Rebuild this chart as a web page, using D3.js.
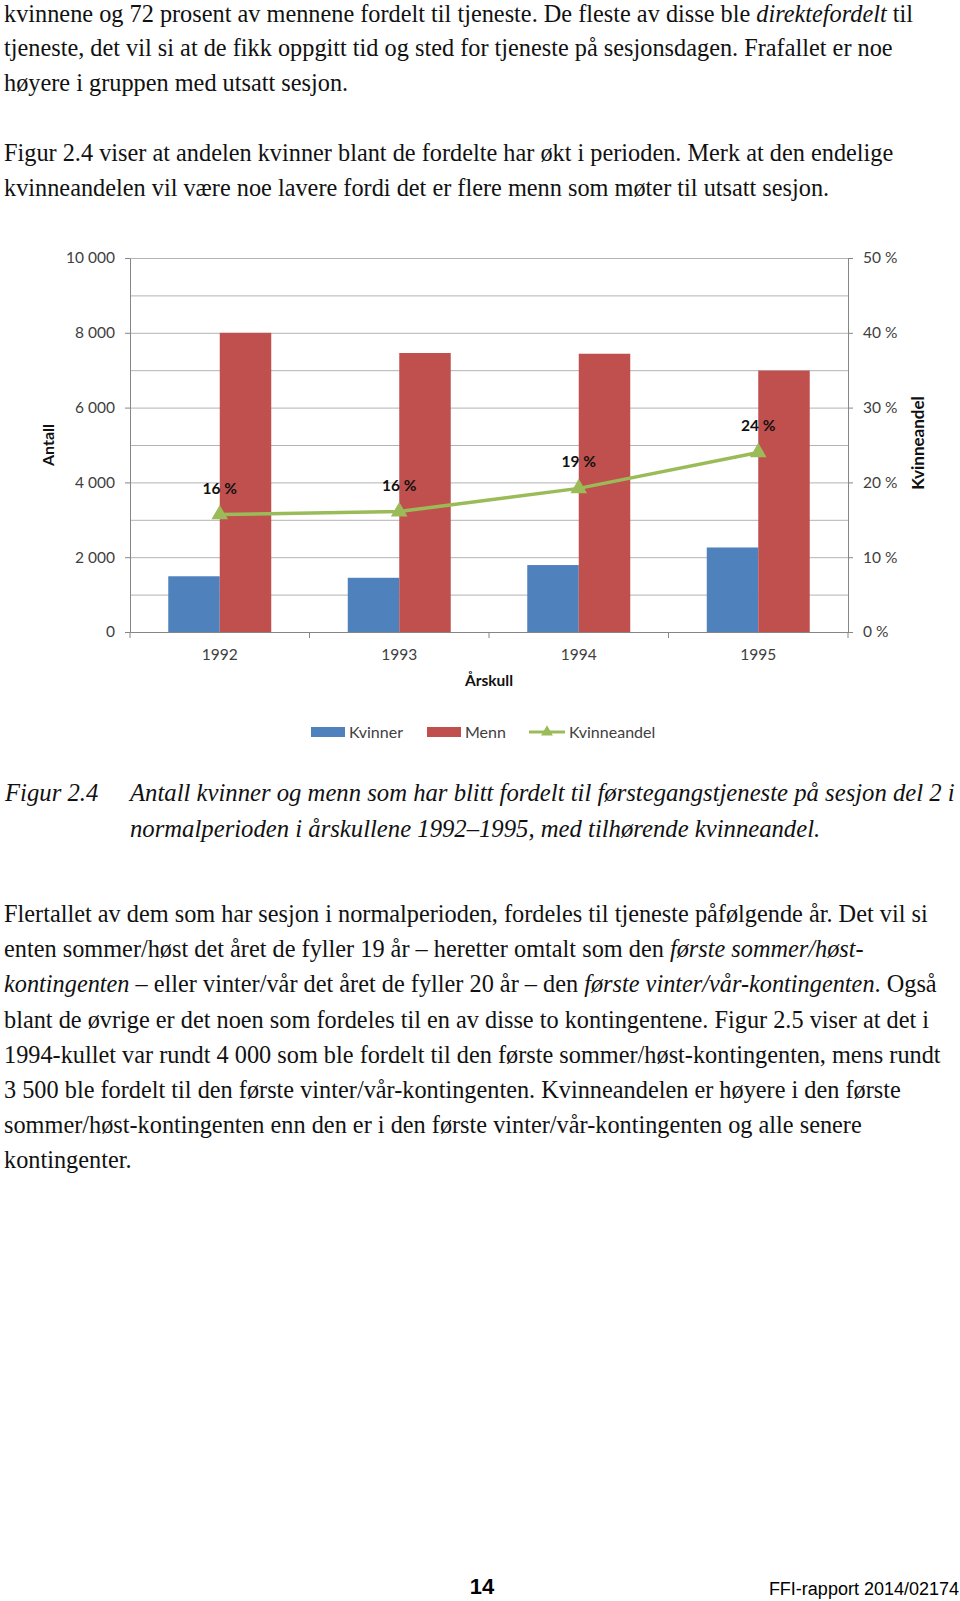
<!DOCTYPE html>
<html>
<head>
<meta charset="utf-8">
<script src="https://cdn.jsdelivr.net/npm/d3@7"></script>
<style>
  body { margin: 0; background: #fff; }
  svg { display: block; }
</style>
</head>
<body>
<div id="page"></div>
<script>
// chart values
const years = ['1992', '1993', '1994', '1995'];
const kvinner = [1490, 1450, 1790, 2260];
const menn = [8000, 7460, 7440, 6990];
const kvinneandel = [0.157, 0.161, 0.192, 0.240];
const leftTicks = [0, 2000, 4000, 6000, 8000, 10000];
const rightTicks = [0, 0.1, 0.2, 0.3, 0.4, 0.5];
const seriesNames = ['Kvinner', 'Menn', 'Kvinneandel'];

// page text, one entry per printed line ([text, italic] pieces)
const para1 = [
  [['kvinnene og 72 prosent av mennene fordelt til tjeneste. De fleste av disse ble ', 0], ['direktefordelt', 1], [' til', 0]],
  [['tjeneste, det vil si at de fikk oppgitt tid og sted for tjeneste på sesjonsdagen. Frafallet er noe', 0]],
  [['høyere i gruppen med utsatt sesjon.', 0]]
];
const para2 = [
  [['Figur 2.4 viser at andelen kvinner blant de fordelte har økt i perioden. Merk at den endelige', 0]],
  [['kvinneandelen vil være noe lavere fordi det er flere menn som møter til utsatt sesjon.', 0]]
];
const captionLabel = 'Figur 2.4';
const captionLines = [
  'Antall kvinner og menn som har blitt fordelt til førstegangstjeneste på sesjon del 2 i',
  'normalperioden i årskullene 1992–1995, med tilhørende kvinneandel.'
];
const para3 = [
  [['Flertallet av dem som har sesjon i normalperioden, fordeles til tjeneste påfølgende år. Det vil si', 0]],
  [['enten sommer/høst det året de fyller 19 år – heretter omtalt som den ', 0], ['første sommer/høst-', 1]],
  [['kontingenten', 1], [' – eller vinter/vår det året de fyller 20 år – den ', 0], ['første vinter/vår-kontingenten', 1], ['. Også', 0]],
  [['blant de øvrige er det noen som fordeles til en av disse to kontingentene. Figur 2.5 viser at det i', 0]],
  [['1994-kullet var rundt 4 000 som ble fordelt til den første sommer/høst-kontingenten, mens rundt', 0]],
  [['3 500 ble fordelt til den første vinter/vår-kontingenten. Kvinneandelen er høyere i den første', 0]],
  [['sommer/høst-kontingenten enn den er i den første vinter/vår-kontingenten og alle senere', 0]],
  [['kontingenter.', 0]]
];
const pageNumber = '14';
const reportId = 'FFI-rapport 2014/02174';

const W = 960, H = 1601;
const serif = '"Liberation Serif", "Times New Roman", serif';
const chartFont = 'Lato, "Open Sans", sans-serif';
const bodySize = '24.3px';

const svg = d3.select('#page').append('svg')
  .attr('width', W)
  .attr('height', H)
  .attr('viewBox', [0, 0, W, H].join(' '));

// --- body text ---
function writeLines(lines, x0, y0, step) {
  lines.forEach((pieces, i) => {
    const t = svg.append('text')
      .attr('x', x0)
      .attr('y', y0 + i * step)
      .style('font-family', serif)
      .style('font-size', bodySize)
      .attr('fill', '#111');
    pieces.forEach(p => {
      t.append('tspan').text(p[0]).style('font-style', p[1] ? 'italic' : 'normal');
    });
  });
}
writeLines(para1, 4, 21.5, 34.8);
writeLines(para2, 4, 161, 34.8);
writeLines(para3, 4, 922, 35.2);

svg.append('text')
  .attr('x', 5).attr('y', 801)
  .style('font-family', serif).style('font-size', '24.7px').style('font-style', 'italic')
  .attr('fill', '#111')
  .text(captionLabel);
captionLines.forEach((s, i) => {
  svg.append('text')
    .attr('x', 130).attr('y', 801 + i * 36)
    .style('font-family', serif).style('font-size', '24.7px').style('font-style', 'italic')
    .attr('fill', '#111')
    .text(s);
});

// footer
svg.append('text')
  .attr('x', 482).attr('y', 1594)
  .attr('text-anchor', 'middle')
  .style('font-family', '"Liberation Sans", Arial, sans-serif')
  .style('font-size', '22px').style('font-weight', 'bold')
  .text(pageNumber);
svg.append('text')
  .attr('x', 959).attr('y', 1595)
  .attr('text-anchor', 'end')
  .style('font-family', '"Liberation Sans", Arial, sans-serif')
  .style('font-size', '18px')
  .text(reportId);

// --- chart ---
const plot = { left: 130, right: 848, top: 258, bottom: 632 };
const colors = { Kvinner: '#4F81BD', Menn: '#C0504D', Kvinneandel: '#9BBB59' };
const gridColor = '#b3b3b3', axisColor = '#868686', labelColor = '#404040';

const x = d3.scaleBand().domain(years).range([plot.left, plot.right]).padding(0);
const xSub = d3.scaleBand().domain(['Kvinner', 'Menn']).range([0, x.bandwidth()])
  .paddingInner(0).paddingOuter(0.743);
const y = d3.scaleLinear().domain([0, 10000]).range([plot.bottom, plot.top]);
const yR = d3.scaleLinear().domain([0, 0.5]).range([plot.bottom, plot.top]);

const g = svg.append('g').style('font-family', chartFont);

// gridlines every 1000
g.append('g')
  .attr('transform', `translate(${plot.left},0)`)
  .call(d3.axisLeft(y).ticks(10).tickSize(-(plot.right - plot.left)).tickFormat(''))
  .call(a => a.select('.domain').remove())
  .call(a => a.selectAll('line').attr('stroke', gridColor).attr('stroke-width', 1));

const nf = d3.formatLocale({ decimal: ',', thousands: '\u00a0', grouping: [3], currency: ['', ''] }).format(',');

const leftAxis = g.append('g')
  .attr('transform', `translate(${plot.left},0)`)
  .call(d3.axisLeft(y).tickValues(leftTicks).tickSize(5).tickSizeOuter(0).tickPadding(10)
    .tickFormat(d => nf(d)));
const rightAxis = g.append('g')
  .attr('transform', `translate(${plot.right},0)`)
  .call(d3.axisRight(yR).tickValues(rightTicks).tickSize(5).tickSizeOuter(0).tickPadding(10)
    .tickFormat(d => Math.round(d * 100) + '\u00a0%'));
[leftAxis, rightAxis].forEach(a => {
  a.select('.domain').attr('stroke', axisColor);
  a.selectAll('line').attr('stroke', axisColor);
  a.selectAll('text').attr('fill', labelColor).style('font-size', '15.5px').style('font-family', chartFont);
});

// bars
const barData = [];
years.forEach((yr, i) => {
  barData.push({ year: yr, key: 'Kvinner', value: kvinner[i] });
  barData.push({ year: yr, key: 'Menn', value: menn[i] });
});
g.append('g').selectAll('rect')
  .data(barData)
  .join('rect')
  .attr('x', d => x(d.year) + xSub(d.key))
  .attr('width', xSub.bandwidth())
  .attr('y', d => y(d.value))
  .attr('height', d => y(0) - y(d.value))
  .attr('fill', d => colors[d.key]);

// x axis: labels at band centres, ticks at band edges
const bottomAxis = g.append('g')
  .attr('transform', `translate(0,${plot.bottom})`)
  .call(d3.axisBottom(x).tickSize(0).tickPadding(16.5).tickSizeOuter(0));
bottomAxis.select('.domain').attr('stroke', axisColor);
bottomAxis.selectAll('text').attr('fill', labelColor).style('font-size', '15.5px').style('font-family', chartFont);
const edges = years.map(yr => x(yr)).concat([x.range()[1]]);
g.append('g').selectAll('line')
  .data(edges)
  .join('line')
  .attr('x1', d => d).attr('x2', d => d)
  .attr('y1', plot.bottom).attr('y2', plot.bottom + 6)
  .attr('stroke', axisColor);

// share line
const pts = years.map((yr, i) => ({ year: yr, v: kvinneandel[i] }));
const cx = d => x(d.year) + x.bandwidth() / 2;
g.append('path')
  .datum(pts)
  .attr('fill', 'none')
  .attr('stroke', colors.Kvinneandel)
  .attr('stroke-width', 3.5)
  .attr('d', d3.line().x(cx).y(d => yR(d.v)));
g.append('g').selectAll('path')
  .data(pts)
  .join('path')
  .attr('transform', d => `translate(${cx(d)},${yR(d.v)})`)
  .attr('d', d3.symbol(d3.symbolTriangle, 120))
  .attr('fill', colors.Kvinneandel);
g.append('g').selectAll('text')
  .data(pts)
  .join('text')
  .attr('x', cx)
  .attr('y', d => yR(d.v) - 21)
  .attr('text-anchor', 'middle')
  .style('font-size', '15.5px')
  .style('font-weight', 'bold')
  .attr('fill', '#111')
  .text(d => Math.round(d.v * 100) + '\u00a0%');

// axis titles
g.append('text')
  .attr('transform', 'translate(48,445) rotate(-90)')
  .attr('text-anchor', 'middle').attr('dy', '0.35em')
  .style('font-size', '16px').style('font-weight', 'bold').attr('fill', '#111')
  .text('Antall');
g.append('text')
  .attr('transform', 'translate(918,443) rotate(-90)')
  .attr('text-anchor', 'middle').attr('dy', '0.35em')
  .style('font-size', '17px').style('font-weight', 'bold').attr('fill', '#111')
  .text('Kvinneandel');
g.append('text')
  .attr('x', (plot.left + plot.right) / 2).attr('y', 686)
  .attr('text-anchor', 'middle')
  .style('font-size', '15.5px').style('font-weight', 'bold').attr('fill', '#111')
  .text('Årskull');

// legend
const legendX = [311, 427, 529];
const legend = g.append('g').selectAll('g')
  .data(seriesNames)
  .join('g')
  .attr('transform', (d, i) => `translate(${legendX[i]},732)`);
legend.filter(d => d !== 'Kvinneandel').append('rect')
  .attr('x', 0).attr('y', -5).attr('width', 34).attr('height', 10)
  .attr('fill', d => colors[d]);
const lineItem = legend.filter(d => d === 'Kvinneandel');
lineItem.append('line')
  .attr('x1', 0).attr('x2', 36).attr('y1', 0).attr('y2', 0)
  .attr('stroke', colors.Kvinneandel).attr('stroke-width', 3);
lineItem.append('path')
  .attr('transform', 'translate(18,0)')
  .attr('d', d3.symbol(d3.symbolTriangle, 60))
  .attr('fill', colors.Kvinneandel);
legend.append('text')
  .attr('x', d => d === 'Kvinneandel' ? 40 : 38)
  .attr('dy', '0.35em')
  .style('font-size', '16px').attr('fill', labelColor)
  .text(d => d);
</script>
</body>
</html>
